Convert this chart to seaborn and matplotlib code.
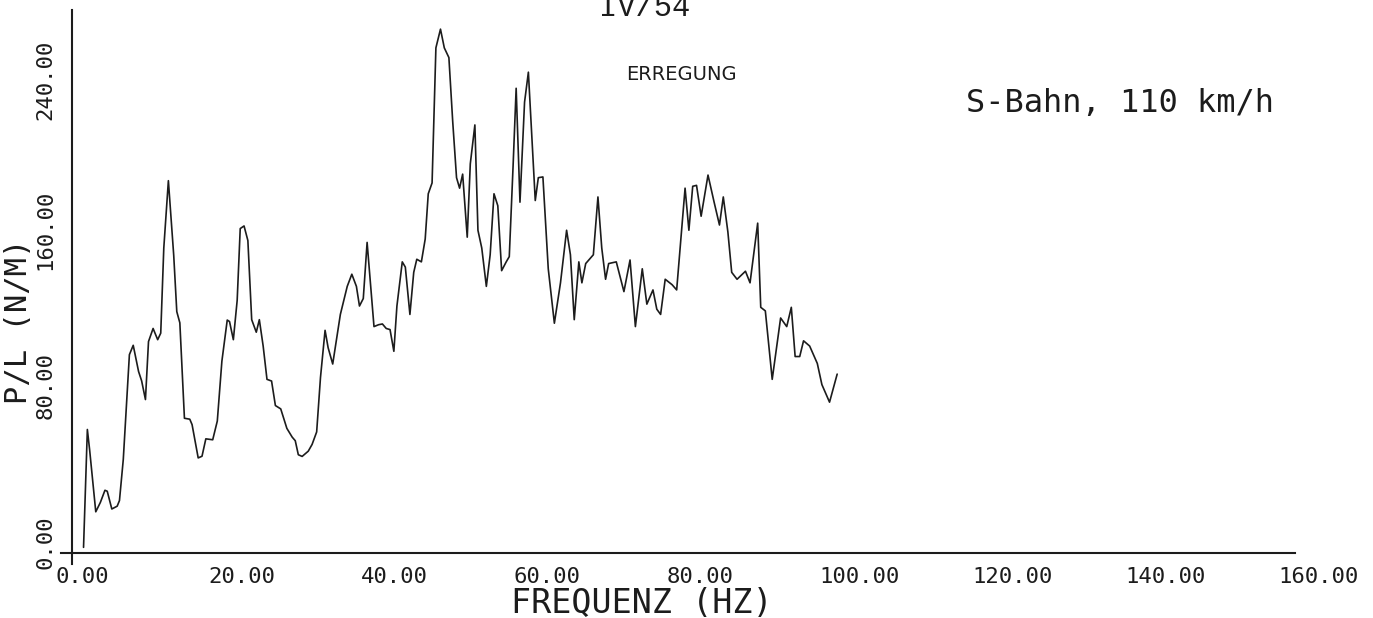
import matplotlib
matplotlib.use("Agg")
import matplotlib.pyplot as plt
from matplotlib.transforms import ScaledTranslation
import seaborn as sns

# values (frequency in Hz, P/L in N/M)
freq_hz = [
    1.5, 2.0, 2.3, 3.1, 3.7, 4.3, 4.6, 5.2, 5.9, 6.2, 6.7, 7.5, 8.0, 8.7, 9.1, 9.6,
    10.0, 10.6, 11.2, 11.6, 12.0, 12.6, 13.3, 13.7, 14.1, 14.7, 15.4, 15.7, 16.5, 17.0,
    17.5, 18.4, 19.0, 19.6, 20.3, 20.6, 21.1, 21.6, 22.0, 22.5, 23.0, 23.5, 24.1, 24.5,
    25.0, 25.5, 26.1, 26.6, 27.3, 28.1, 28.8, 29.2, 29.6, 30.1, 30.9, 31.4, 32.0, 32.5,
    33.1, 33.5, 34.1, 35.1, 36.0, 36.6, 37.2, 37.6, 38.1, 38.6, 39.5, 40.1, 40.6, 41.1,
    41.6, 42.1, 42.5, 43.2, 43.6, 44.2, 44.7, 45.1, 45.7, 46.2, 46.6, 47.1, 47.6, 48.2,
    48.7, 49.3, 49.8, 50.3, 50.7, 51.1, 51.7, 52.1, 52.7, 53.1, 53.6, 54.2, 54.7, 55.2,
    55.7, 56.2, 56.8, 57.2, 57.7, 58.1, 58.6, 59.2, 59.7, 60.6, 61.0, 61.6, 62.3, 63.1,
    63.9, 64.7, 65.2, 65.7, 66.3, 66.7, 67.2, 68.2, 68.8, 69.3, 69.8, 70.2, 71.2, 72.2,
    73.0, 73.7, 74.6, 75.2, 76.0, 76.5, 77.0, 77.6, 78.5, 79.1, 80.2, 80.7, 81.2, 81.7,
    82.3, 83.2, 84.0, 84.7, 85.2, 85.8, 86.3, 87.0, 88.1, 88.7, 89.7, 90.1, 90.7, 91.6,
    92.7, 93.5, 94.1, 94.6, 95.2, 95.7, 96.5, 97.5, 98.1, 99.1, 100.1,
]
load_nm = [
    3, 66, 55, 22, 27, 33.5, 33, 23.5, 25, 28, 50, 106, 111, 97, 92, 82,
    113, 120, 114, 117.5, 163, 199, 159, 129, 123, 72, 71.5, 68.6, 50.8, 51.7,
    61, 60.5, 70.5, 102.5, 124.5, 123.7, 114, 135, 173.4, 174.8, 167, 124.7, 118, 124.7,
    110.6, 92.8, 91.9, 78.8, 77, 66.6, 61.9, 60, 52.5, 51.6, 54.4, 58, 64.7, 93.8,
    119, 109.7, 101, 127.5, 142.5, 149, 142.5, 132, 136, 166, 121, 122, 122.4, 120,
    119.4, 107.8, 132, 155.6, 152.8, 127.5, 150, 157, 155.6, 167.8, 192, 197.8, 270, 280,
    270, 264.8, 230.6, 200.6, 195, 202.5, 168.8, 208, 228.8, 172.5, 163, 142.5, 159.4, 192,
    185.6, 150.9, 155.6, 158.4, 207, 248.4, 187.5, 241, 257, 188.4, 200.6, 201, 151.9, 122.8,
    144.4, 172.5, 159.4, 124.7, 155.6, 144.4, 154.7, 159.4, 190.3, 163, 146.3, 154.7, 155.6, 139.7,
    156.6, 121, 151.9, 133, 140.6, 130.3, 127.5, 146.3, 143.4, 140.6, 195, 172.5, 196, 196.5,
    180, 202, 187.5, 175.3, 190.3, 171.6, 150, 146.3, 150.6, 144.4, 176.3, 131.3, 129.4, 92.8,
    125.6, 121, 131.3, 105, 105, 113.4, 110.6, 101.3, 90, 80.6, 95.6,
]
x_ticks = [0, 20, 40, 60, 80, 100, 120, 140, 160]
x_tick_labels = ["0.00", "20.00", "40.00", "60.00", "80.00", "100.00", "120.00", "140.00", "160.00"]
y_ticks = [0, 80, 160, 240]
y_tick_labels = ["0.00", "80.00", "160.00", "240.00"]

sns.set_style("white")
plt.rcParams["font.family"] = ["DejaVu Sans Mono", "DejaVu Sans"]

ink = "#1c1c1c"
fig = plt.figure(figsize=(13.73, 6.18), dpi=100)
ax = fig.add_axes([0.0447, 0.0871, 0.8985, 0.896])

sns.lineplot(x=freq_hz, y=load_nm, ax=ax, color=ink, linewidth=1.2, estimator=None)

ax.set_xlim(-1.4, 160)
ax.set_ylim(-6, 290)
for side in ["top", "right"]:
    ax.spines[side].set_visible(False)
ax.spines["left"].set_position(("data", 0))
ax.spines["bottom"].set_position(("data", 0))
for side in ["left", "bottom"]:
    ax.spines[side].set_color(ink)
    ax.spines[side].set_linewidth(1.5)

ax.set_xticks(x_ticks)
ax.set_xticklabels(x_tick_labels, fontsize=16, ha="left", color=ink)
ax.set_yticks(y_ticks)
ax.set_yticklabels(y_tick_labels, fontsize=16, rotation=90, va="bottom", ha="right", color=ink)
ax.tick_params(axis="both", direction="out", length=5, width=1.3, color=ink)
ax.tick_params(axis="x", pad=5)
ax.tick_params(axis="y", pad=7)

# plotter-style labels start a bit before their tick
for lbl in ax.get_xticklabels():
    lbl.set_transform(lbl.get_transform() + ScaledTranslation(-0.17, 0, fig.dpi_scale_trans))
for lbl in ax.get_yticklabels():
    lbl.set_transform(lbl.get_transform() + ScaledTranslation(0, -0.16, fig.dpi_scale_trans))

ax.set_xlabel("")
ax.set_ylabel("")
W, H = 1373, 618
fig.text(642 / W, 1 - 613 / H, "FREQUENZ (HZ)", fontsize=24, ha="center", va="baseline", color=ink)
fig.text(19 / W, 1 - 321 / H, "P/L (N/M)", fontsize=22, rotation=90, ha="center", va="center", color=ink)
fig.text(645 / W, 1 - 16 / H, "IV/54", fontsize=22, family="Liberation Mono", ha="center", va="baseline", color=ink)
fig.text(681 / W, 1 - 75 / H, "ERREGUNG", fontsize=14, family="DejaVu Sans", ha="center", va="center", color=ink)
fig.text(1120 / W, 1 - 103 / H, "S-Bahn, 110 km/h", fontsize=23, ha="center", va="center", color=ink)

fig.savefig("out.png", dpi=100, facecolor="white")
